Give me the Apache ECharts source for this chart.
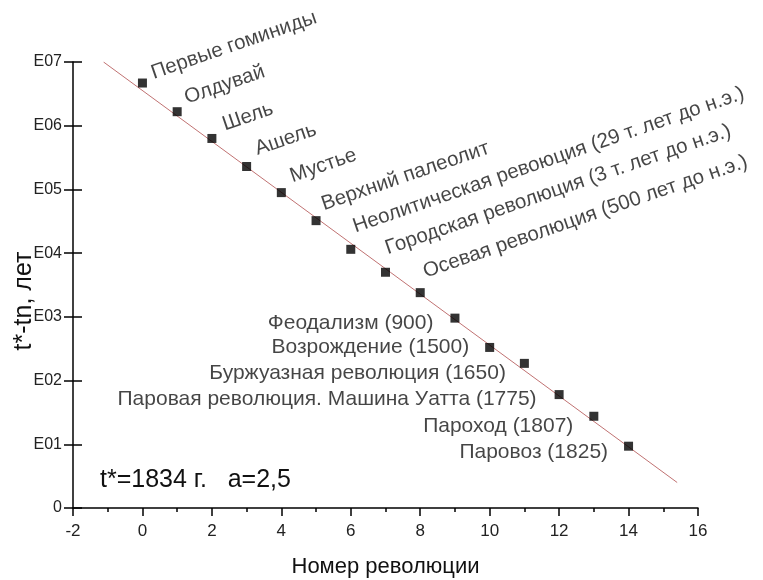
<!DOCTYPE html>
<html>
<head>
<meta charset="utf-8">
<script src="https://cdn.jsdelivr.net/npm/echarts@6/dist/echarts.min.js"></script>
<style>
  html, body { margin: 0; padding: 0; background: #fff; }
  #chart { width: 763px; height: 580px; }
</style>
</head>
<body>
<div id="chart"></div>
<script>
// номер революции и lg(t*-tn)
var revNumbers = [0, 1, 2, 3, 4, 5, 6, 7, 8, 9, 10, 11, 12, 13, 14];
var logTimes = [6.67, 6.22, 5.80, 5.36, 4.95, 4.51, 4.06, 3.70, 3.38, 2.98, 2.52, 2.27, 1.78, 1.44, 0.97];
var revNames = [
    'Первые гоминиды', 'Олдувай', 'Шель', 'Ашель', 'Мустье', 'Верхний палеолит',
    'Неолитическая ревоюция (29 т. лет до н.э.)',
    'Городская революция (3 т. лет до н.э.)',
    'Осевая революция (500 лет до н.э.)',
    'Феодализм (900)', 'Возрождение (1500)', 'Буржуазная революция (1650)',
    'Паровая революция. Машина Уатта (1775)', 'Пароход (1807)', 'Паровоз (1825)'
];
// прямая тренда (концы)
var trendX = [-1.12, 15.4];
var trendY = [7.0, 0.4];
var yTickLabels = ['0', 'E01', 'E02', 'E03', 'E04', 'E05', 'E06', 'E07'];

// сдвиги подписей (px)
var labelOffsets = [
    [3, -9], [3, -13], [6, -12], [5, -16], [5, -15], [2, -16], [1, -23], [-1, -25], [1, -21],
    [-12, 5], [-11, 0], [-9, 10], [-13, 5], [-11, 10], [-11, 6]
];

var font = 'Liberation Sans, Arial, sans-serif';

var points = revNumbers.map(function (x, i) {
    var top = i < 9;
    return {
        value: [x, logTimes[i]],
        name: revNames[i],
        label: {
            show: true,
            formatter: revNames[i],
            position: top ? 'right' : 'left',
            distance: 5,
            rotate: top ? 19 : 0,
            offset: labelOffsets[i],
            fontSize: top ? 20.5 : 21,
            color: '#161616',
            fontFamily: font
        }
    };
});

var trend = trendX.map(function (x, i) { return [x, trendY[i]]; });

var myChart = echarts.init(document.getElementById('chart'));
var option = {
    backgroundColor: '#fff',
    animation: false,
    grid: { left: 73, right: 65, top: 62, bottom: 72, containLabel: false, outerBoundsMode: 'none' },
    xAxis: {
        type: 'value',
        min: -2, max: 16, interval: 2,
        name: 'Номер революции',
        nameLocation: 'middle',
        nameGap: 48,
        nameTextStyle: { fontSize: 22, color: '#111', fontFamily: font },
        axisLine: { onZero: false, lineStyle: { color: '#000', width: 1.5 } },
        axisTick: { length: 8, lineStyle: { color: '#000', width: 1.5 } },
        minorTick: { show: true, splitNumber: 2, length: 4, lineStyle: { color: '#000', width: 1.5 } },
        axisLabel: { fontSize: 17, color: '#222', margin: 15, fontFamily: font },
        splitLine: { show: false }
    },
    yAxis: [{
        type: 'value',
        min: 0, max: 7, interval: 1,
        axisLine: { show: true, onZero: false, lineStyle: { color: '#000', width: 1.5 } },
        axisTick: { length: 9, lineStyle: { color: '#000', width: 1.5 } },
        axisLabel: {
            fontSize: 16, color: '#222', margin: 11, fontFamily: font,
            formatter: function (v) { return yTickLabels[v]; }
        },
        splitLine: { show: false }
    }, {
        type: 'value',
        position: 'left',
        min: 0, max: 7, interval: 1,
        axisLine: { show: false, onZero: false },
        axisTick: { show: true, inside: true, length: 9, lineStyle: { color: '#000', width: 1.5 } },
        axisLabel: { show: false },
        splitLine: { show: false }
    }],
    graphic: [{
        type: 'text',
        x: 24,
        y: 301,
        rotation: Math.PI / 2,
        style: {
            text: 't*-tn, лет', fontSize: 25, fill: '#111', fontFamily: font,
            align: 'center', verticalAlign: 'middle'
        }
    }, {
        type: 'text',
        left: 100,
        top: 468,
        style: { text: 't*=1834 г.   a=2,5', fontSize: 25, fill: '#111', fontFamily: font }
    }],
    series: [{
        type: 'line',
        data: trend,
        showSymbol: false,
        lineStyle: { color: '#c07272', width: 1 },
        z: 1,
        silent: true
    }, {
        type: 'scatter',
        data: points,
        symbol: 'rect',
        symbolSize: 9,
        itemStyle: { color: '#000' },
        z: 3
    }]
};
myChart.setOption(option);
</script>
</body>
</html>
